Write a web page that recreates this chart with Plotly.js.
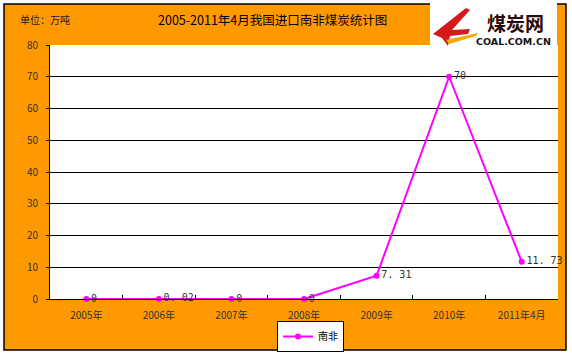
<!DOCTYPE html>
<html><head><meta charset="utf-8">
<script src="https://cdn.plot.ly/plotly-3.0.1.min.js"></script>
<style>html,body{margin:0;padding:0;background:#fff}</style>
</head><body><div id="chart" style="width:572px;height:356px"></div>
<script>
var categories = ['2005年','2006年','2007年','2008年','2009年','2010年','2011年4月'];
var values = [0, 0.02, 0, 0, 7.31, 70, 11.73];
var labels = ['0','0. 02','0','0','7. 31','70','11. 73'];
var seriesName = '南非';
var yTicks = [0,10,20,30,40,50,60,70,80];

var W=572,H=356,L=50,R=14,T=45,B=57;
var pw=W-L-R, ph=H-T-B;
function px(x){return (x-L)/pw;}
function py(y){return (H-B-y)/ph;}
function path(pts){return pts.map(function(p,i){return (i?'L':'M')+px(p[0])+','+py(p[1]);}).join(' ')+' Z';}

var font = '"Noto Sans CJK SC", "DejaVu Sans", sans-serif';
var trace = {
  x: categories, y: values, text: labels, name: seriesName,
  type:'scatter', mode:'lines+markers+text',
  line:{color:'#FF00FF', width:2},
  marker:{color:'#FF00FF', size:6, symbol:'circle'},
  textposition:'middle right',
  textfont:{family:'"DejaVu Sans Mono", monospace', size:10, color:'#333'},
  cliponaxis:false
};
var layout = {
  width:W, height:H,
  margin:{l:L,r:R,t:T,b:B,pad:0,autoexpand:false},
  paper_bgcolor:'#ffffff', plot_bgcolor:'#ffffff',
  font:{family:font, size:10, color:'#333'},
  showlegend:true,
  legend:{x:px(277), y:py(336.5), xanchor:'left', yanchor:'middle', bgcolor:'#fff', bordercolor:'#000', borderwidth:1, font:{size:10, color:'#000'}, itemwidth:30, tracegroupgap:0},
  xaxis:{type:'category', range:[-0.5,6.5], tickson:'boundaries', ticks:'inside', ticklen:4, tickcolor:'#000', showline:true, linecolor:'#000', linewidth:1, showgrid:false, tickfont:{size:10,color:'#333'}, ticklabelstandoff:7, fixedrange:true},
  yaxis:{range:[0,80], tickvals:yTicks, ticks:'outside', ticklen:3, tickcolor:'#000', showline:true, linecolor:'#000', linewidth:1, gridcolor:'#000', gridwidth:1, zeroline:false, tickfont:{size:10,color:'#333'}, ticklabelstandoff:6, fixedrange:true},
  shapes:[
    {type:'rect', xref:'paper', yref:'paper', layer:'below', x0:px(4), x1:px(566), y0:py(350), y1:py(4), fillcolor:'#FF9900', line:{color:'#000', width:1.5}},
    {type:'rect', xref:'paper', yref:'paper', layer:'below', x0:0, x1:1, y0:0, y1:1, fillcolor:'#fff', line:{width:0}},
    {type:'rect', xref:'paper', yref:'paper', layer:'above', x0:px(430), x1:px(557), y0:py(45), y1:py(0), fillcolor:'#fff', line:{width:0}},
    {type:'path', xref:'paper', yref:'paper', layer:'above', path:path([[433,34],[466,8],[470,10],[452,30],[470,29],[468,34],[450,36],[448,46],[442,38]]), fillcolor:'#D41A1A', line:{width:0}},
    {type:'path', xref:'paper', yref:'paper', layer:'above', path:path([[446,40],[478,33],[476,36],[449,44]]), fillcolor:'#F2A900', line:{width:0}}
  ],
  annotations:[
    {text:'2005-2011年4月我国进口南非煤炭统计图', xref:'paper', yref:'paper', x:px(272), y:py(20), xanchor:'center', yanchor:'middle', showarrow:false, font:{size:12.5, color:'#000', family:font}},
    {text:'单位：万吨', xref:'paper', yref:'paper', x:px(18), y:py(20), xanchor:'left', yanchor:'middle', showarrow:false, font:{size:10, color:'#222', family:font}},
    {text:'<b>煤炭网</b>', xref:'paper', yref:'paper', x:px(515), y:py(23), xanchor:'center', yanchor:'middle', showarrow:false, font:{size:19, color:'#2a0a0a', family:font}},
    {text:'<b>COAL.COM.CN</b>', xref:'paper', yref:'paper', x:px(513), y:py(41), xanchor:'center', yanchor:'middle', showarrow:false, font:{size:9.5, color:'#111', family:'"DejaVu Sans", sans-serif'}}
  ]
};
Plotly.newPlot('chart',[trace],layout,{displayModeBar:false, staticPlot:true});
</script></body></html>
